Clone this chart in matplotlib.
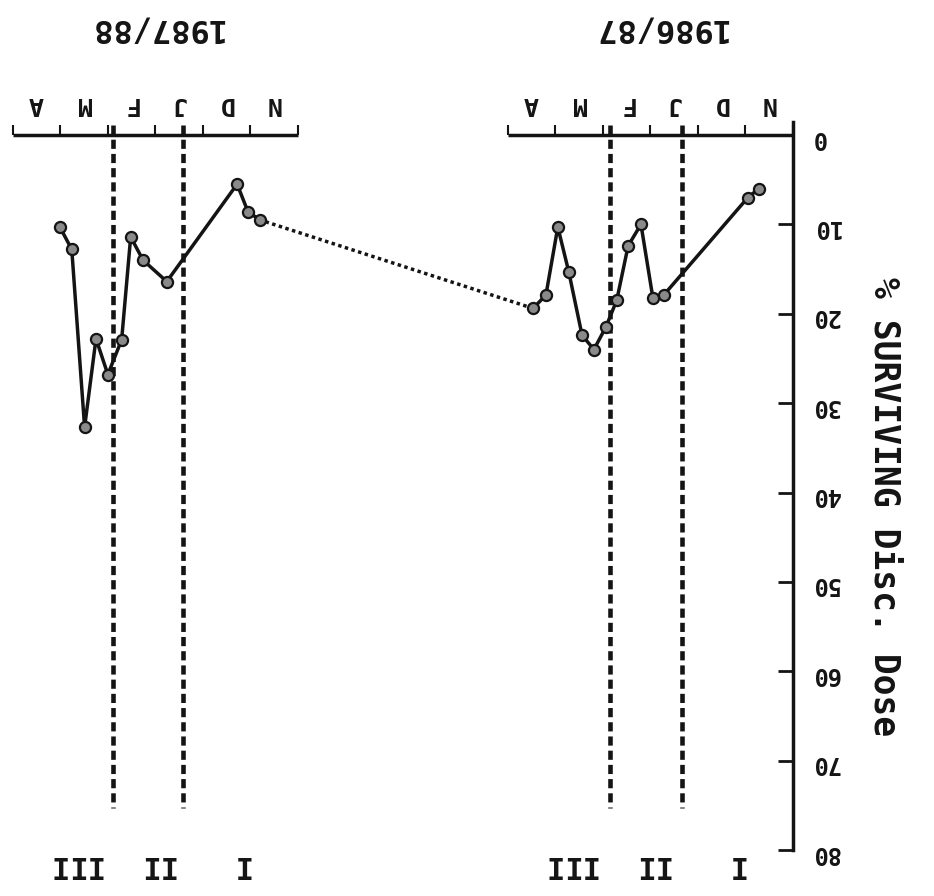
import matplotlib
matplotlib.use("Agg")
import matplotlib.pyplot as plt

plt.rcParams['font.family'] = ['DejaVu Sans Mono']
plt.rcParams['font.weight'] = 'bold'

# ---------------- data ----------------
months = ["N", "D", "J", "F", "M", "A"]
seasons = ["1986/87", "1987/88"]
periods = ["I", "II", "III"]
period_pos = [1.22, 2.99, 4.71]          # months since 1 Nov

# sampling time (months since 1 November) and % surviving discriminating dose
t_8687 = [0.72, 0.95, 2.72, 2.95, 3.20, 3.47, 3.71, 3.94, 4.19, 4.44, 4.72, 4.95, 5.20, 5.47]
s_8687 = [6.0, 7.0, 17.9, 18.2, 10.0, 12.4, 18.5, 21.5, 24.0, 22.4, 15.3, 10.3, 17.9, 19.4]

t_8788 = [0.80, 1.05, 1.28, 2.76, 3.26, 3.52, 3.71, 4.00, 4.25, 4.49, 4.76, 5.01]
s_8788 = [9.5, 8.6, 5.5, 16.4, 14.0, 11.4, 22.9, 26.8, 22.8, 32.7, 12.8, 10.3]

# period boundaries (months since 1 November)
bounds_8687 = [2.34, 3.85]
bounds_8788 = [2.42, 3.90]

yticks = list(range(0, 90, 10))
ylabel = "% SURVIVING Disc. Dose"

# ---------------- layout ----------------
W, H = 934, 896
panel_offset = {"1986/87": 0.0, "1987/88": 10.42}
panel_len = 6.0
year_pos = {"1986/87": 2.8, "1987/88": 2.99}
ink = "#141414"

fig = plt.figure(figsize=(W / 100, H / 100), dpi=100)
fig.patch.set_facecolor("white")
ax = fig.add_axes([10 / W, 1 - 850 / H, 783 / W, 715 / H])
ax.set_xlim(16.48, 0)
ax.set_ylim(80, 0)

for sp in ["left", "bottom", "top"]:
    ax.spines[sp].set_visible(False)
ax.spines["right"].set_linewidth(2.5)
ax.spines["right"].set_color(ink)
ax.spines["right"].set_bounds(-1.5, 80)

# y axis on the right (whole picture is rotated by 180 degrees)
ax.yaxis.tick_right()
ax.set_yticks(yticks)
ax.set_yticklabels([str(v) for v in yticks])
ax.tick_params(axis="y", direction="in", length=11, width=2, color=ink,
               labelsize=17, pad=13, labelrotation=180, labelcolor=ink)

# month axis on top
ax.xaxis.tick_top()
major = []
minor = []
labels = []
for s in seasons:
    o = panel_offset[s]
    major += [o + i for i in range(7)]
    minor += [o + i + 0.52 for i in range(6)]
    labels += months
ax.set_xticks(major)
ax.set_xticklabels([])
ax.set_xticks(minor, minor=True)
ax.set_xticklabels(labels, minor=True)
ax.tick_params(axis="x", which="major", direction="out", length=7, width=1.5, color=ink)
ax.tick_params(axis="x", which="minor", length=0, labelsize=18, pad=14,
               labelrotation=180, labelcolor=ink)

for s in seasons:
    o = panel_offset[s]
    ax.plot([o, o + panel_len], [0, 0], color=ink, lw=2.5, clip_on=False,
            solid_capstyle="butt")

# period boundaries
for s, bnds in zip(seasons, [bounds_8687, bounds_8788]):
    o = panel_offset[s]
    for b in bnds:
        ax.plot([o + b, o + b], [-1.1, 75.3], color=ink, lw=3.3,
                linestyle=(0, (2, 1.1)), clip_on=False, zorder=1)
    for p, lab in zip(period_pos, periods):
        ax.text(o + p, 81.6, lab, ha="center", va="center", fontsize=22,
                rotation=180, color=ink, clip_on=False)
    ax.text(o + year_pos[s], -12.0, s, ha="center", va="center", fontsize=23,
            rotation=180, color=ink, clip_on=False)

# series
x1 = [panel_offset["1986/87"] + t for t in t_8687]
x2 = [panel_offset["1987/88"] + t for t in t_8788]
ax.plot([x1[-1], x2[0]], [s_8687[-1], s_8788[0]], color=ink, lw=2.5,
        linestyle=(0, (1, 1)), zorder=2)
for xs, ys in [(x1, s_8687), (x2, s_8788)]:
    ax.plot(xs, ys, color=ink, lw=2.5, marker="o", ms=8, mfc="#8a8a8a",
            mec=ink, mew=1.6, zorder=3)

fig.text(885 / W, 1 - 507 / H, ylabel, rotation=270, ha="center", va="center",
         fontsize=25, color=ink)

fig.savefig("out.png", dpi=100, facecolor="white")
